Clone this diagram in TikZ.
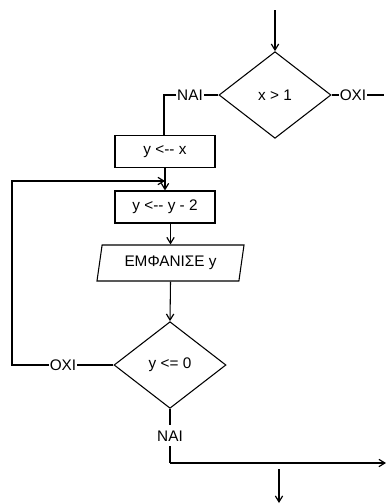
\documentclass[tikz,border=0pt]{standalone}
\usepackage{fontspec}
\setmainfont{Liberation Sans}
\usetikzlibrary{shapes.geometric,arrows.meta}
\begin{document}
\begin{tikzpicture}[x=0.75pt,y=-0.75pt,
  every node/.style={font=\fontsize{11.5}{13}\selectfont},
  flow/.style={line width=0.8pt},
  arr/.style={flow,-{Straight Barb[length=4.5pt,width=5.5pt,line width=0.9pt]}},
  procbox/.style={draw,line width=0.8pt,minimum width=75pt,minimum height=24pt,inner sep=0pt},
  decision/.style={draw,diamond,line width=0.8pt,minimum width=84pt,minimum height=65pt,inner sep=0pt},
  iobox/.style={draw,trapezium,trapezium left angle=76,trapezium right angle=104,trapezium stretches=true,line width=0.8pt,minimum width=111pt,minimum height=27pt,inner sep=0pt},
  lbl/.style={inner sep=0.5pt,fill=white}]
\useasboundingbox (0,0) rectangle (386,504);
\coordinate (start) at (275,10);
\node[decision] (d1) at (275,95) {x > 1};
\node[lbl] (nai1) at (190,95) {NAI};
\node[lbl] (oxi1) at (353,95) {OXI};
\coordinate (r1) at (384,95);
\node[procbox] (b1) at (165,151.5) {y <-{}- x};
\node[procbox] (b2) at (165,207) {y <-{}- y - 2};
\node[iobox] (p) at (170.5,263) {ΕΜΦΑΝΙΣΕ y};
\node[decision] (d2) at (170,365) {y <= 0};
\node[lbl] (oxi2) at (63,365) {OXI};
\coordinate (lc) at (12,365);
\coordinate (lt) at (12,181);
\coordinate (lj) at (165,181);
\node[lbl] (nai2) at (170,436) {NAI};
\coordinate (bc) at (170,463);
\coordinate (br) at (386,463);
\coordinate (es) at (279,469);
\coordinate (ee) at (279,503);

\draw[arr] (start) -- (d1.north);
\draw[flow] (d1.west) -- (nai1.east);
\draw[flow] (nai1.west) -- (164,95) -- (164,135);
\draw[flow] (d1.east) -- (oxi1.west);
\draw[flow] (oxi1.east) -- (r1);
\draw[arr] (b1.south) -- (b2.north);
\draw[arr] (b2.south -| p.north) -- (p.north);
\draw[arr] (p.south) -- (d2.north);
\draw[flow] (d2.west) -- (oxi2.east);
\draw[arr] (oxi2.west) -- (lc) -- (lt) -- (lj);
\draw[flow] (d2.south) -- ++(0,16);
\draw[flow] (nai2.south) ++(0,4) -- (bc);
\draw[arr] (bc) -- (br);
\draw[arr] (es) -- (ee);
\end{tikzpicture}
\end{document}
